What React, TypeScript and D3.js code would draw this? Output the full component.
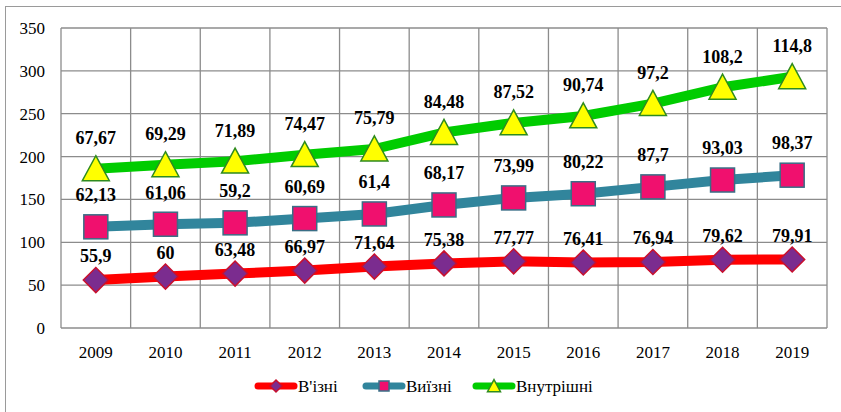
import React from "react";
import * as d3 from "d3";

const years = ["2009","2010","2011","2012","2013","2014","2015","2016","2017","2018","2019"];
const vyizni1 = [55.9, 60, 63.48, 66.97, 71.64, 75.38, 77.77, 76.41, 76.94, 79.62, 79.91];
const vyizni2 = [62.13, 61.06, 59.2, 60.69, 61.4, 68.17, 73.99, 80.22, 87.7, 93.03, 98.37];
const vnutr = [67.67, 69.29, 71.89, 74.47, 75.79, 84.48, 87.52, 90.74, 97.2, 108.2, 114.8];
const seriesNames = ["В'ізні", "Виїзні", "Внутрішні"];
const yTicks = [0, 50, 100, 150, 200, 250, 300, 350];

const W = 841, H = 412;
const left = 61, right = 827, top = 28, bottom = 328;

const fmt = (v: number) => String(v).replace(".", ",");

export default function App() {
  const x = d3.scaleBand<string>().domain(years).range([left, right]);
  const y = d3.scaleLinear().domain([0, 350]).range([bottom, top]);
  const cx = (yr: string) => (x(yr) as number) + x.bandwidth() / 2;

  const s1 = vyizni1;
  const s2 = vyizni1.map((v, i) => v + vyizni2[i]);
  const s3 = s2.map((v, i) => v + vnutr[i]);
  const line = d3.line<number>().x((_, i) => cx(years[i])).y((d) => y(d));

  const fontStyle = { fontFamily: "Liberation Serif" };

  const diamond = (px: number, py: number, r: number, key: string) => (
    <path key={key} d={`M${px},${py - r}L${px + r},${py}L${px},${py + r}L${px - r},${py}Z`}
      fill="#7B2C8F" stroke="#C8102E" strokeWidth={1.5} />
  );
  const square = (px: number, py: number, r: number, key: string) => (
    <rect key={key} x={px - r} y={py - r} width={2 * r} height={2 * r}
      fill="#F0106E" stroke="#3A6E86" strokeWidth={1.5} />
  );
  const tri = (px: number, py: number, r: number, key: string) => (
    <path key={key} d={`M${px},${py - r * 1.05}L${px + r * 1.08},${py + r * 0.95}L${px - r * 1.08},${py + r * 0.95}Z`}
      fill="#FFFF00" stroke="#2E8B1E" strokeWidth={1.5} />
  );

  const series = [
    { vals: s1, labels: vyizni1, color: "#FF0000", marker: diamond, off: 24, r: 12.5 },
    { vals: s2, labels: vyizni2, color: "#31859C", marker: square, off: 32, r: 12 },
    { vals: s3, labels: vnutr, color: "#00CC00", marker: tri, off: 31, r: 12.5 },
  ];

  const legendItems = [
    { x: 255, color: "#FF0000", marker: diamond, r: 6, text: seriesNames[0] },
    { x: 363, color: "#31859C", marker: square, r: 5, text: seriesNames[1] },
    { x: 473, color: "#00CC00", marker: tri, r: 6, text: seriesNames[2] },
  ];

  return (
    <div style={{ position: "fixed", left: 0, top: 0 }}>
      <svg width={W} height={H} style={{ display: "block", background: "#fff" }}>
        <rect x={5.5} y={6.5} width={W + 10} height={H + 10} fill="#fff" stroke="#9a9a9a" strokeWidth={1} />
        {yTicks.map((t) => (
          <line key={"h" + t} x1={left} x2={right} y1={y(t)} y2={y(t)} stroke="#8c8c8c" strokeWidth={1.3} />
        ))}
        {years.map((yr) => (
          <line key={"v" + yr} x1={x(yr)} x2={x(yr)} y1={top} y2={bottom} stroke="#8c8c8c" strokeWidth={1.3} />
        ))}
        <line x1={right} x2={right} y1={top} y2={bottom} stroke="#8c8c8c" strokeWidth={1.3} />
        {yTicks.map((t) => (
          <text key={"yl" + t} x={45} y={y(t)} dy="0.35em" textAnchor="end" style={fontStyle} fontSize={17}>{t}</text>
        ))}
        {years.map((yr) => (
          <text key={"xl" + yr} x={cx(yr)} y={358} textAnchor="middle" style={fontStyle} fontSize={17}>{yr}</text>
        ))}
        {series.map((s, si) => (
          <path key={"l" + si} d={line(s.vals) as string} fill="none" stroke={s.color} strokeWidth={10} strokeLinejoin="round" />
        ))}
        {series.map((s, si) => (
          <g key={"m" + si}>
            {s.vals.map((v, i) => s.marker(cx(years[i]), y(v), s.r, `m${si}-${i}`))}
          </g>
        ))}
        {series.map((s, si) => (
          <g key={"t" + si}>
            {s.vals.map((v, i) => (
              <text key={i} x={cx(years[i])} y={y(v) - s.off} dy="0.35em" textAnchor="middle"
                style={fontStyle} fontWeight="bold" fontSize={18}>{fmt(s.labels[i])}</text>
            ))}
          </g>
        ))}
        {legendItems.map((l, i) => (
          <g key={"lg" + i}>
            <line x1={l.x + 3} x2={l.x + 39} y1={386} y2={386} stroke={l.color} strokeWidth={7} strokeLinecap="round" />
            {l.marker(l.x + 21, 386, l.r, "lm" + i)}
            <text x={l.x + 43} y={386} dy="0.35em" style={fontStyle} fontSize={17}>{l.text}</text>
          </g>
        ))}
      </svg>
    </div>
  );
}
